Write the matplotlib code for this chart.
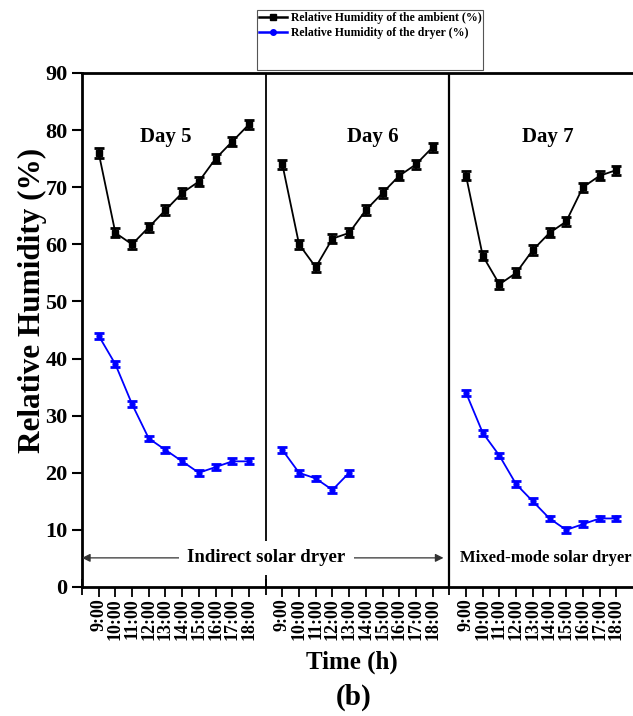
import numpy as np
import matplotlib
matplotlib.use('Agg')
import matplotlib.pyplot as plt
from matplotlib.patches import Rectangle
from matplotlib.lines import Line2D

plt.rcParams['font.family'] = ['Liberation Serif', 'DejaVu Serif']
plt.rcParams['font.weight'] = 'bold'

hours = ['9:00', '10:00', '11:00', '12:00', '13:00',
         '14:00', '15:00', '16:00', '17:00', '18:00']
days = ['Day 5', 'Day 6', 'Day 7']

# ambient relative humidity (%) per day, 9:00 - 18:00
amb_day5 = [76, 62, 60, 63, 66, 69, 71, 75, 78, 81]
amb_day6 = [74, 60, 56, 61, 62, 66, 69, 72, 74, 77]
amb_day7 = [72, 58, 53, 55, 59, 62, 64, 70, 72, 73]

# dryer relative humidity (%); day 6 only logged until 13:00
dry_day5 = [44, 39, 32, 26, 24, 22, 20, 21, 22, 22]
dry_day6 = [24, 20, 19, 17, 20]
dry_day7 = [34, 27, 23, 18, 15, 12, 10, 11, 12, 12]

amb_err = 0.8
dry_err = 0.5

fig = plt.figure(figsize=(6.33, 7.16), dpi=100)
ax = fig.add_axes([82 / 633, 1 - 587 / 716, 1 - 82 / 633, (587 - 73) / 716])

# each day gets 10 slots, one empty slot between days
offsets = [0, 11, 22]
amb = [amb_day5, amb_day6, amb_day7]
dry = [dry_day5, dry_day6, dry_day7]

for k in range(3):
    xa = np.arange(len(amb[k])) + offsets[k]
    ax.errorbar(xa, amb[k], yerr=amb_err, color='black', lw=1.3,
                marker='s', ms=4, capsize=3.8, capthick=2, elinewidth=1.2)
    xd = np.arange(len(dry[k])) + offsets[k]
    ax.errorbar(xd, dry[k], yerr=dry_err, color='blue', lw=1.3,
                marker='o', ms=3.5, capsize=3.8, capthick=2, elinewidth=1.2)

ax.set_xlim(-1, 32)
ax.set_ylim(0, 90)

# day separators
ax.axvline(10, color='black', lw=1.3, zorder=1)
ax.axvline(21, color='black', lw=1.6, zorder=1)

ticks = np.concatenate([np.arange(10) + o for o in offsets])
ax.set_xticks(ticks)
ax.set_xticklabels(hours * 3, rotation=90, fontsize=13, fontweight='bold')
ax.set_xticks([-1, 10, 21], minor=True)
ax.tick_params(axis='x', which='major', direction='out', length=7, width=1.3, pad=1)
ax.tick_params(axis='x', which='minor', direction='inout', length=12, width=1.3)

ax.set_yticks(np.arange(0, 91, 10))
ax.tick_params(axis='y', direction='out', length=7, width=1.5, labelsize=16)
for lab in ax.get_yticklabels():
    lab.set_fontweight('bold')

for s in ['left', 'bottom', 'top']:
    ax.spines[s].set_linewidth(2)
ax.spines['right'].set_visible(False)

# day titles
for x, name in zip([4.0, 16.4, 26.9], days):
    ax.text(x, 78.8, name, ha='center', va='center', fontsize=15, fontweight='bold')

# dryer type annotations
ax.annotate('', xy=(-1, 5.1), xytext=(20.65, 5.1),
            arrowprops=dict(arrowstyle='<|-|>', color='#333333', lw=0.9,
                            mutation_scale=12, shrinkA=0, shrinkB=0))
ax.text(10.05, 5.1, 'Indirect solar dryer', ha='center', va='center',
        fontsize=13.5, fontweight='bold',
        bbox=dict(facecolor='white', edgecolor='none', pad=6), zorder=5)
ax.text(26.75, 5.1, 'Mixed-mode solar dryer', ha='center', va='center',
        fontsize=12, fontweight='bold')

# legend box sits above the axes
fig.patches.append(Rectangle((257 / 633, 1 - 70 / 716), 226 / 633, 60 / 716,
                             transform=fig.transFigure, facecolor='white',
                             edgecolor='#555555', lw=0.8))
handles = [Line2D([], [], color='black', lw=1.8, marker='s', ms=4),
           Line2D([], [], color='blue', lw=1.8, marker='o', ms=4)]
labels = ['Relative Humidity of the ambient (%)',
          'Relative Humidity of the dryer (%)']
leg = fig.legend(handles, labels, loc='upper left',
                 bbox_to_anchor=(254 / 633, 1 - 7 / 716),
                 frameon=False, fontsize=8.5, handlelength=2.4,
                 handletextpad=0.3, labelspacing=0.3, borderaxespad=0)
for t in leg.get_texts():
    t.set_fontweight('bold')

fig.text(32 / 633, 1 - 300 / 716, 'Relative Humidity (%)', rotation=90,
         ha='center', va='center', fontsize=22.5, fontweight='bold')
fig.text(352 / 633, 1 - 662 / 716, 'Time (h)', ha='center', va='center',
         fontsize=18, fontweight='bold')
fig.text(354 / 633, 1 - 697 / 716, '(b)', ha='center', va='center',
         fontsize=21, fontweight='bold')

fig.savefig('out.png', dpi=100)
